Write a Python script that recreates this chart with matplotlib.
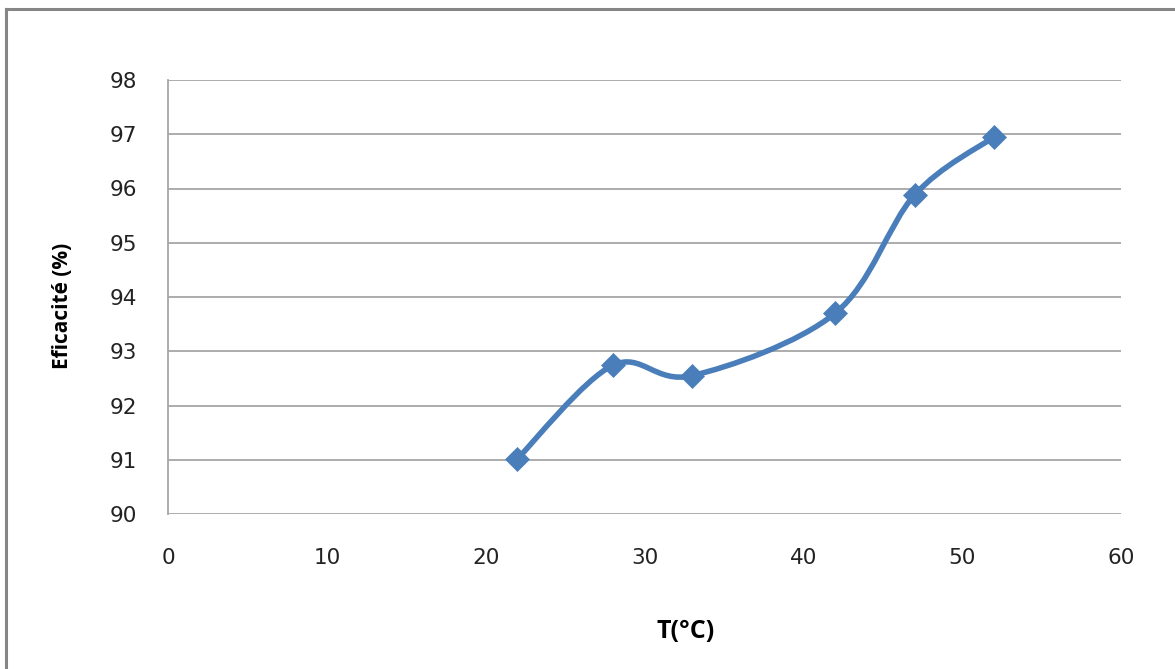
import matplotlib
matplotlib.use("Agg")
import matplotlib.pyplot as plt
from matplotlib.path import Path
from matplotlib.patches import PathPatch
from matplotlib.lines import Line2D
import numpy as np

temperature = [22, 28, 33, 42, 47, 52]
efficacite = [91.02, 92.74, 92.55, 93.70, 95.88, 96.95]
x_ticks = [0, 10, 20, 30, 40, 50, 60]
y_ticks = [90, 91, 92, 93, 94, 95, 96, 97, 98]
x_label = "T(°C)"
y_label = "Eficacité (%)"

blue = "#4A7EBB"
grid_gray = "#A6A6A6"

fig = plt.figure(figsize=(11.75, 6.69), dpi=100)
ax = fig.add_axes([168/1175, 1-514/669, (1121-168)/1175, (514-80)/669])

# smoothed line (Catmull-Rom style bezier through the data points, like Excel smoothing)
pts = np.column_stack([temperature, efficacite])
verts = [tuple(pts[0])]
codes = [Path.MOVETO]
n = len(pts)
for i in range(n - 1):
    p0 = pts[max(i - 1, 0)]
    p1 = pts[i]
    p2 = pts[i + 1]
    p3 = pts[min(i + 2, n - 1)]
    c1 = p1 + (p2 - p0) / 6.0
    c2 = p2 - (p3 - p1) / 6.0
    verts += [tuple(c1), tuple(c2), tuple(p2)]
    codes += [Path.CURVE4] * 3
ax.add_patch(PathPatch(Path(verts, codes), facecolor="none", edgecolor=blue,
                       linewidth=4.0, capstyle="round", joinstyle="round", zorder=3))
ax.plot(temperature, efficacite, linestyle="none", marker="D", markersize=12,
        color=blue, markeredgecolor=blue, markeredgewidth=0.5, zorder=4)

ax.set_xlim(0, 60)
ax.set_ylim(90, 98)
ax.set_xticks(x_ticks)
ax.set_yticks(y_ticks)
ax.tick_params(length=0, labelsize=15.5, colors="#222222")
ax.tick_params(axis="y", pad=22)
ax.tick_params(axis="x", pad=24.5)
ax.grid(axis="y", color=grid_gray, linewidth=1.3)
ax.set_axisbelow(True)
for s in ["top", "right", "bottom"]:
    ax.spines[s].set_visible(False)
ax.spines["left"].set_color(grid_gray)
ax.spines["left"].set_linewidth(1.3)

fig.text(686/1175, 1-632/669, x_label, ha="center", va="center",
         fontsize=18, fontweight="bold", family="Open Sans")
fig.text(62/1175, 1-306/669, y_label, ha="center", va="center", rotation=90,
         fontsize=15, fontweight="bold", family="Open Sans")

# outer chart border (top and left visible)
fig.add_artist(Line2D([6/1175, 6/1175], [0, 1-9/669], color="#868686", linewidth=2.2,
                      transform=fig.transFigure))
fig.add_artist(Line2D([6/1175, 1], [1-9/669, 1-9/669], color="#868686", linewidth=2.2,
                      transform=fig.transFigure))

fig.savefig("out.png", dpi=100)
